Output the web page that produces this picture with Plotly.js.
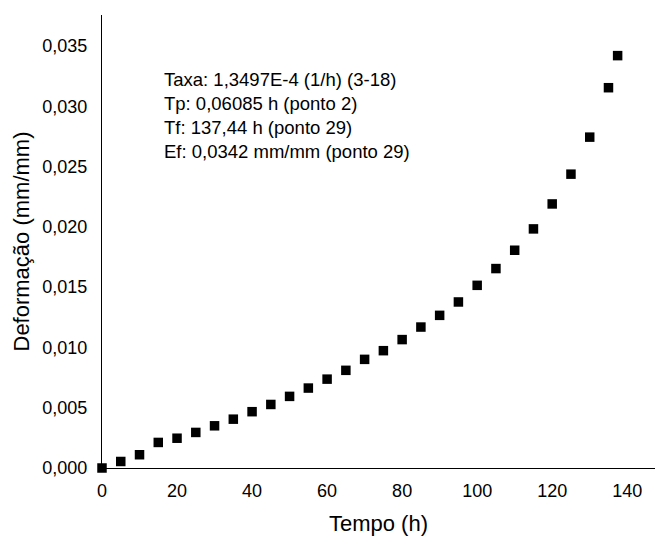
<!DOCTYPE html>
<html>
<head>
<meta charset="utf-8">
<script src="https://cdn.plot.ly/plotly-3.0.1.min.js"></script>
<style>html,body{margin:0;padding:0;background:#fff;}#chart{width:657px;height:538px;}</style>
</head>
<body>
<div id="chart"></div>
<script>
// Tempo (h) and Deformação (mm/mm)
const tempo = [0, 5, 10, 15, 20, 25, 30, 35, 40, 45, 50, 55, 60, 65, 70, 75, 80, 85, 90, 95, 100, 105, 110, 115, 120, 125, 130, 135, 137.44];
const deformacao = [0, 0.00054, 0.0011, 0.00212, 0.00247, 0.00295, 0.0035, 0.00405, 0.00467, 0.00527, 0.00594,
  0.00663, 0.00737, 0.0081, 0.00901, 0.00973, 0.01065, 0.01169, 0.01266, 0.01377,
  0.01515, 0.01654, 0.01806, 0.01983, 0.0219, 0.02437, 0.02744, 0.03154, 0.0342];
const xTicks = [0, 20, 40, 60, 80, 100, 120, 140];
const yTicks = [0, 0.005, 0.010, 0.015, 0.020, 0.025, 0.030, 0.035];
const infoLines = [
  'Taxa: 1,3497E-4 (1/h) (3-18)',
  'Tp: 0,06085 h (ponto 2)',
  'Tf: 137,44 h (ponto 29)',
  'Ef: 0,0342 mm/mm (ponto 29)'
];

const FONT = 'Liberation Sans, Arial, sans-serif';

const trace = {
  x: tempo, y: deformacao, type: 'scatter', mode: 'markers',
  marker: {symbol: 'square', size: 9.5, color: '#000'},
  cliponaxis: false, hoverinfo: 'skip'
};

const layout = {
  width: 657, height: 538,
  margin: {l: 102, r: 2, t: 15, b: 70},
  paper_bgcolor: '#fff', plot_bgcolor: '#fff',
  separators: ',.',
  showlegend: false,
  font: {family: FONT, color: '#000', size: 18},
  xaxis: {
    range: [0, 147.4], tickvals: xTicks, ticks: '',
    showgrid: false, zeroline: false, showline: true, linecolor: '#000', linewidth: 1.2,
    tickfont: {size: 18, family: FONT, color: '#000'}, ticklabelstandoff: 6,
    title: {text: 'Tempo (h)', font: {size: 22, family: FONT, color: '#000'}, standoff: 15},
    automargin: false
  },
  yaxis: {
    range: [0, 0.03757], tickvals: yTicks, tickformat: '.3f', ticks: '',
    showgrid: false, zeroline: false, showline: true, linecolor: '#000', linewidth: 1.2,
    tickfont: {size: 18, family: FONT, color: '#000'}, ticklabelstandoff: 10,
    title: {text: 'Deformação (mm/mm)', font: {size: 22, family: FONT, color: '#000'}, standoff: 6},
    automargin: false
  },
  annotations: [{
    xref: 'paper', yref: 'paper', x: 0.108, y: 0.885,
    xanchor: 'left', yanchor: 'top', align: 'left', showarrow: false,
    text: infoLines.join('<br>'),
    font: {size: 18.5, family: FONT, color: '#000'}
  }]
};

Plotly.newPlot('chart', [trace], layout, {staticPlot: true, displayModeBar: false});
</script>
</body>
</html>
